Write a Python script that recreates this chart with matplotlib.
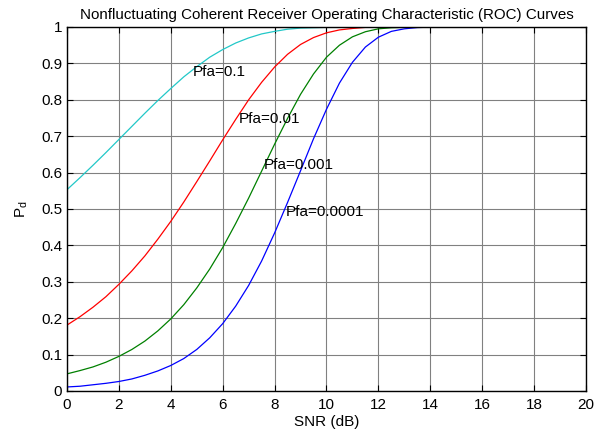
import matplotlib.pyplot as plt

plt.rcParams['font.family'] = ['Liberation Sans', 'DejaVu Sans']

# SNR grid (dB) and Pd values
snr_db = [0, 0.5, 1, 1.5, 2, 2.5, 3, 3.5, 4, 4.5, 5, 5.5, 6, 6.5, 7, 7.5,
          8, 8.5, 9, 9.5, 10, 10.5, 11, 11.5, 12, 12.5, 13, 13.5, 14, 14.5, 20]

pd_1 = [0.553, 0.586, 0.620, 0.655, 0.691, 0.727, 0.763, 0.798, 0.831, 0.863,
        0.891, 0.917, 0.938, 0.956, 0.970, 0.981, 0.988, 0.994, 0.997, 0.998,
        0.999, 1.0, 1.0, 1.0, 1.0, 1.0, 1.0, 1.0, 1.0, 1.0, 1.0]
pd_2 = [0.181, 0.204, 0.230, 0.259, 0.293, 0.330, 0.371, 0.417, 0.466, 0.519,
        0.575, 0.632, 0.690, 0.746, 0.800, 0.848, 0.890, 0.925, 0.952, 0.971,
        0.984, 0.992, 0.996, 0.999, 0.9995, 1.0, 1.0, 1.0, 1.0, 1.0, 1.0]
pd_3 = [0.047, 0.056, 0.066, 0.079, 0.095, 0.114, 0.137, 0.165, 0.198, 0.237,
        0.283, 0.335, 0.394, 0.460, 0.530, 0.604, 0.678, 0.749, 0.815, 0.871,
        0.917, 0.950, 0.973, 0.987, 0.995, 0.998, 0.999, 1.0, 1.0, 1.0, 1.0]
pd_4 = [0.011, 0.013, 0.017, 0.021, 0.026, 0.033, 0.043, 0.055, 0.070, 0.089,
        0.114, 0.146, 0.185, 0.233, 0.290, 0.357, 0.434, 0.518, 0.605, 0.693,
        0.774, 0.846, 0.903, 0.945, 0.972, 0.988, 0.995, 0.9985, 0.9996, 1.0, 1.0]

labels = ["Pfa=0.1", "Pfa=0.01", "Pfa=0.001", "Pfa=0.0001"]
label_x = [4.83, 6.6, 7.57, 8.42]
label_y = [0.876, 0.747, 0.621, 0.492]

fig = plt.figure(figsize=(5.94, 4.32), dpi=100)
ax = fig.add_axes([0.1128, 0.095, 0.8737, 0.8425])

ax.plot(snr_db, pd_1, color='#22c8c8', lw=0.9)
ax.plot(snr_db, pd_2, color='red', lw=0.9)
ax.plot(snr_db, pd_3, color='#008000', lw=0.9)
ax.plot(snr_db, pd_4, color='blue', lw=0.9)

for t, x, y in zip(labels, label_x, label_y):
    ax.text(x, y, t, fontsize=11, ha='left', va='center')

ax.set_xlim(0, 20)
ax.set_ylim(0, 1)
ax.set_xticks(range(0, 21, 2))
ax.set_yticks([i / 10 for i in range(11)])
ax.set_yticklabels(['0', '0.1', '0.2', '0.3', '0.4', '0.5', '0.6', '0.7', '0.8', '0.9', '1'])
ax.grid(True, color='#808080', lw=0.8)
ax.tick_params(direction='in', length=4, labelsize=11, top=True, right=True,
               labeltop=False, labelright=False, width=0.8)
ax.tick_params(axis='x', pad=5)
for s in ax.spines.values():
    s.set_linewidth(1.0)

ax.set_title("Nonfluctuating Coherent Receiver Operating Characteristic (ROC) Curves",
             fontsize=10.9, pad=6)
ax.set_xlabel("SNR (dB)", fontsize=11, labelpad=2)
ax.set_ylabel(r"P$_\mathregular{d}$", fontsize=11, labelpad=8)

fig.savefig("out.png", dpi=100)
